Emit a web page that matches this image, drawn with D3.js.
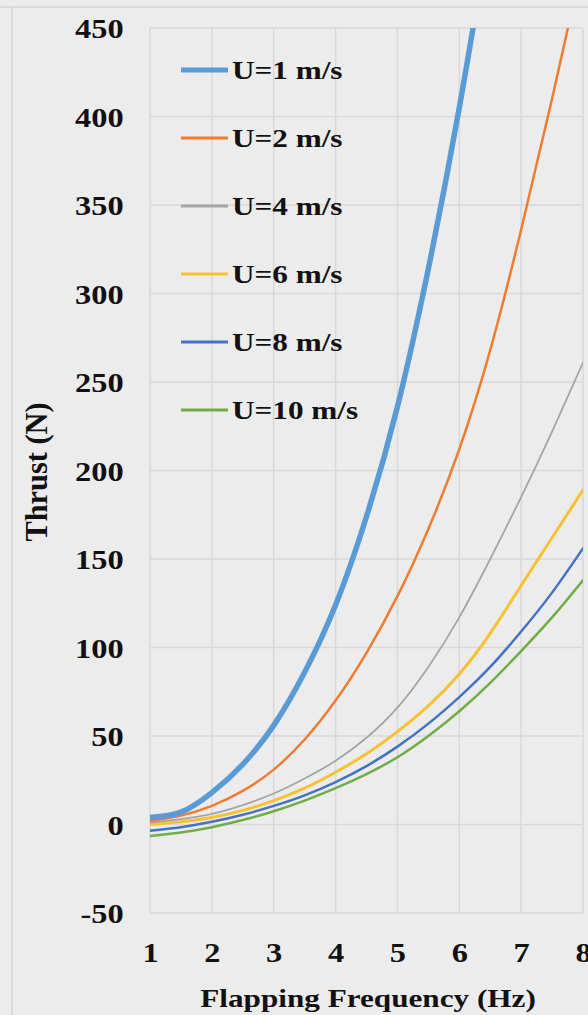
<!DOCTYPE html>
<html>
<head>
<meta charset="utf-8">
<script src="https://cdn.jsdelivr.net/npm/d3@7"></script>
<style>
  html, body { margin: 0; padding: 0; background: #ececec; }
  svg { display: block; }
  text { font-family: "Liberation Serif", "Times New Roman", serif; font-weight: bold; fill: #111; }
</style>
</head>
<body>
<svg id="chart" width="588" height="1015"></svg>
<script>
// flapping frequency (Hz)
var freq = [1, 1.5, 2, 2.5, 3, 3.5, 4, 4.5, 5, 5.5, 6, 6.5, 7, 7.5, 8];

// thrust (N) per flow speed
var u1  = [4, 7, 18, 34, 56, 86, 124, 174, 236, 314, 405, 510, 628, 760, 900];
var u2  = [2, 5, 10.5, 19, 31, 48, 70, 97, 129, 167, 212, 268, 336, 410, 488];
var u4  = [1, 3, 6, 11, 17.5, 26, 36, 49, 66, 89, 117, 150, 185, 222, 261];
var u6  = [0, 1.5, 4, 8, 13.5, 20.5, 29.5, 40, 52.5, 67, 85, 108, 135, 162, 189];
var u8  = [-3.5, -1.5, 1.5, 5.5, 10.5, 16.5, 24, 33, 44, 57, 72, 89, 109, 131, 156];
var u10 = [-6.5, -4.5, -1.5, 2.5, 7.5, 13.5, 20.5, 28.5, 38, 50, 64, 80, 98, 117, 138];

var seriesNames = ['U=1 m/s', 'U=2 m/s', 'U=4 m/s', 'U=6 m/s', 'U=8 m/s', 'U=10 m/s'];
var seriesValues = [u1, u2, u4, u6, u8, u10];
var seriesColors = ['#5b9bd5', '#ed7d31', '#a5a5a5', '#f6c233', '#4472c4', '#70ad47'];
var seriesWidths = [5.5, 2.5, 1.8, 3, 2.5, 2.5];

var xTicks = [1, 2, 3, 4, 5, 6, 7, 8];
var yTicks = [-50, 0, 50, 100, 150, 200, 250, 300, 350, 400, 450];

var svg = d3.select('#chart');
var plot = { left: 150, right: 583, top: 28, bottom: 913 };
var stretch = 1.2; // the picture is a bit wider than tall

var x = d3.scaleLinear().domain([1, 8]).range([plot.left, plot.right]);
var y = d3.scaleLinear().domain([-50, 450]).range([plot.bottom, plot.top]);

// outer frame lines of the screenshot
svg.append('line').attr('x1', 0).attr('x2', 588).attr('y1', 7).attr('y2', 7)
  .attr('stroke', '#d6d6d6').attr('stroke-width', 1.5);
svg.append('line').attr('x1', 12).attr('x2', 12).attr('y1', 7).attr('y2', 1015)
  .attr('stroke', '#d6d6d6').attr('stroke-width', 1.5);

// grid
var grid = svg.append('g').attr('class', 'grid');
grid.selectAll('.h').data(yTicks).enter().append('line')
  .attr('x1', plot.left).attr('x2', plot.right)
  .attr('y1', function(d) { return y(d); }).attr('y2', function(d) { return y(d); })
  .attr('stroke', '#d9d9d9').attr('stroke-width', 1.5);
grid.selectAll('.v').data(xTicks).enter().append('line')
  .attr('y1', plot.top).attr('y2', plot.bottom)
  .attr('x1', function(d) { return x(d); }).attr('x2', function(d) { return x(d); })
  .attr('stroke', '#d9d9d9').attr('stroke-width', 1.5);

// axes, only the labels are shown (plain hyphen for the minus like Excel)
var fmt = function(d) { return String(d); };
var yAxis = svg.append('g').attr('transform', 'translate(' + plot.left + ',0)')
  .call(d3.axisLeft(y).tickValues(yTicks).tickFormat(fmt).tickSize(0).tickPadding(22));
var xAxis = svg.append('g').attr('transform', 'translate(0,' + plot.bottom + ')')
  .call(d3.axisBottom(x).tickValues(xTicks).tickFormat(fmt).tickSize(0).tickPadding(30));
[yAxis, xAxis].forEach(function(ax) {
  ax.select('.domain').remove();
  ax.selectAll('text')
    .style('font-family', '"Liberation Serif", serif')
    .style('font-weight', 'bold')
    .style('font-size', '27px')
    .attr('fill', '#111');
});
yAxis.selectAll('text').attr('transform', 'scale(' + stretch + ',1)').attr('dy', '0.36em');
xAxis.selectAll('text').attr('transform', 'scale(' + stretch + ',1)');

// curves, clipped to the plot area
svg.append('clipPath').attr('id', 'clip').append('rect')
  .attr('x', plot.left).attr('y', plot.top)
  .attr('width', plot.right - plot.left).attr('height', plot.bottom - plot.top);

var line = d3.line()
  .x(function(d, i) { return x(freq[i]); })
  .y(function(d) { return y(d); })
  .curve(d3.curveNatural);

var lines = svg.append('g').attr('clip-path', 'url(#clip)');
// thin ones first so the thick blue sits on top
for (var i = seriesValues.length - 1; i >= 0; i--) {
  lines.append('path')
    .datum(seriesValues[i])
    .attr('d', line)
    .attr('fill', 'none')
    .attr('stroke', seriesColors[i])
    .attr('stroke-width', seriesWidths[i])
    .attr('stroke-linejoin', 'round')
    .attr('stroke-linecap', 'round');
}

// legend
var legend = svg.append('g');
seriesNames.forEach(function(name, i) {
  var ly = 70 + i * 68;
  legend.append('line')
    .attr('x1', 181).attr('x2', 228).attr('y1', ly).attr('y2', ly)
    .attr('stroke', seriesColors[i]).attr('stroke-width', i === 0 ? 5 : 3);
  legend.append('text')
    .attr('transform', 'translate(232,' + (ly + 9) + ') scale(' + stretch + ',1)')
    .style('font-size', '26px')
    .text(name);
});

// axis titles
svg.append('text')
  .attr('transform', 'translate(368,1007) scale(' + stretch + ',1)')
  .attr('text-anchor', 'middle')
  .style('font-size', '26px')
  .text('Flapping Frequency (Hz)');

svg.append('text')
  .attr('transform', 'translate(47,472) scale(' + stretch + ',1) rotate(-90)')
  .attr('text-anchor', 'middle')
  .style('font-size', '26px')
  .attr('textLength', 139)
  .attr('lengthAdjust', 'spacingAndGlyphs')
  .text('Thrust (N)');
</script>
</body>
</html>
